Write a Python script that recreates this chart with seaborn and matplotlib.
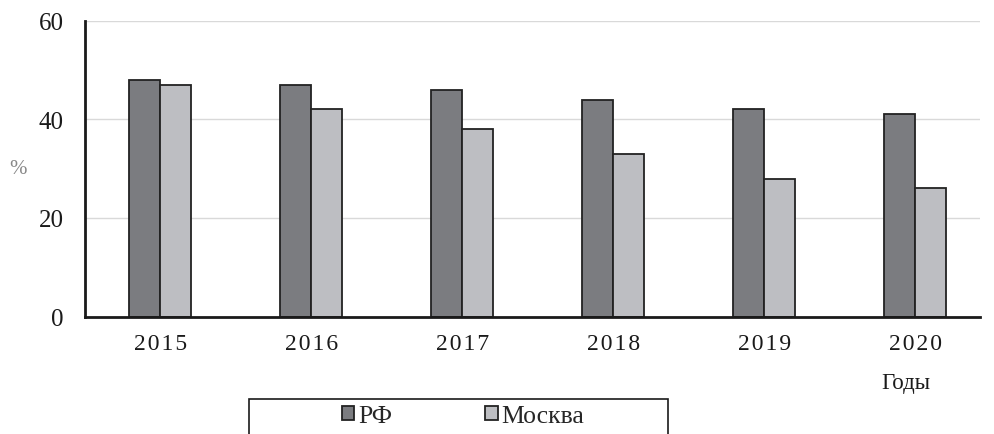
import pandas as pd
import numpy as np
import matplotlib
matplotlib.use("Agg")
import matplotlib.pyplot as plt
from matplotlib.patches import Rectangle
import seaborn as sns

years = ['2015', '2016', '2017', '2018', '2019', '2020']
rf = [48, 47, 46, 44, 42, 41]
moscow = [47, 42, 38, 33, 28, 26]
series = ['РФ', 'Москва']
colors = ['#7b7c80', '#bdbec2']

df = pd.DataFrame({
    'year': years * 2,
    'value': rf + moscow,
    'series': [series[0]] * len(years) + [series[1]] * len(years),
})

sns.set_style('white')
plt.rcParams['font.family'] = ['Liberation Serif', 'DejaVu Serif']

fig, ax = plt.subplots(figsize=(9.95, 4.35), dpi=100)
fig.subplots_adjust(left=0.085, right=0.985, top=0.95, bottom=0.27)

sns.barplot(data=df, x='year', y='value', hue='series', palette=colors,
            width=0.41, gap=0, edgecolor='#222222', linewidth=1.3,
            saturation=1, ax=ax, legend=True)

ax.set_ylim(0, 60)
ax.set_xlim(-0.5, 5.43)
ax.set_yticks([0, 20, 40, 60])
ax.yaxis.grid(True, color='#d9d9d9', linewidth=1)
ax.set_axisbelow(True)
for s in ['top', 'right']:
    ax.spines[s].set_visible(False)
for s in ['left', 'bottom']:
    ax.spines[s].set_color('#1a1a1a')
    ax.spines[s].set_linewidth(2)

# years are printed with a little letter spacing
ax.set_xticks(range(len(years)))
ax.set_xticklabels(['\u200a'.join(y) for y in years], fontsize=17, color='#1a1a1a')
ax.tick_params(axis='y', labelsize=18, colors='#1a1a1a', length=0, pad=15)
ax.tick_params(axis='x', length=0, pad=12)
ax.set_xlabel('')
ax.set_ylabel('%', fontsize=15, color='#888888', rotation=0, va='center', ha='center')
ax.yaxis.set_label_coords(-0.074, 0.5)

fig.text(0.91, 0.118, 'Годы', fontsize=16.5, color='#1a1a1a', ha='center', va='center')

# legend box, cut by the bottom edge like in the original
fig.patches.append(Rectangle((249 / 995, -0.05), 419 / 995, 0.05 + 35 / 435,
                             transform=fig.transFigure, fill=False,
                             edgecolor='#1a1a1a', linewidth=1.2))

handles, labels = ax.get_legend_handles_labels()
ax.legend_.remove()
leg = fig.legend(handles, labels, loc='center', ncol=2,
                 bbox_to_anchor=(463 / 995, 18 / 435),
                 frameon=False, fontsize=18.5, handlelength=0.5, handleheight=0.5,
                 handletextpad=0.15, columnspacing=3.6)

fig.savefig('out.png', dpi=100)
